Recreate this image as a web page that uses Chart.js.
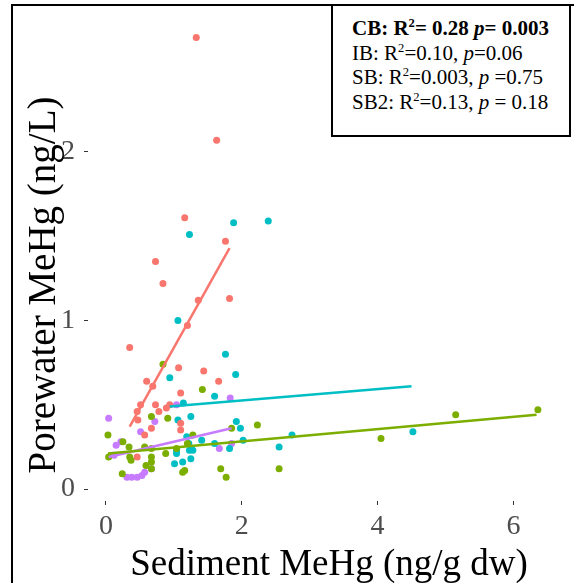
<!DOCTYPE html>
<html>
<head>
<meta charset="utf-8">
<script src="https://cdn.jsdelivr.net/npm/chart.js@4"></script>
<style>
  html, body { margin:0; padding:0; background:#fff; }
  #wrap { position:relative; width:574px; height:583px; overflow:hidden; }
  #c { position:absolute; left:0; top:0; }
  .frameTop { position:absolute; left:11px; top:4px; width:563px; height:2px; background:#000; }
  .frameLeft { position:absolute; left:11px; top:4px; width:2px; height:579px; background:#000; }
  #stats { position:absolute; left:331px; top:4px; width:240px; height:133px; box-sizing:border-box;
           border:2px solid #000; background:#fff; padding:10px 0 0 19px;
           font-family:'Liberation Serif','Times New Roman',serif; font-size:21px; line-height:24.5px; color:#000; white-space:nowrap; }
  #stats sup { font-size:0.6em; line-height:0; vertical-align:0.6em; }
</style>
</head>
<body>
<div id="wrap">
  <canvas id="c" width="574" height="583"></canvas>
  <div class="frameTop"></div>
  <div class="frameLeft"></div>
  <div id="stats">
    <div><b>CB: R<sup>2</sup>= 0.28 <i>p</i>= 0.003</b></div>
    <div>IB: R<sup>2</sup>=0.10, <i>p</i>=0.06</div>
    <div>SB: R<sup>2</sup>=0.003, <i>p</i> =0.75</div>
    <div>SB2: R<sup>2</sup>=0.13, <i>p</i> = 0.18</div>
  </div>
</div>
<script>
// ---- Data ----
const groups = ['CB', 'IB', 'SB', 'SB2'];
const groupColors = ['#F8766D', '#7CAE00', '#00BFC4', '#C77CFF'];

const cbX = [1.33,1.63,1.16,1.76,0.73,0.84,1.36,1.82,1.20,0.35,1.07,1.44,0.60,0.69,1.66,1.10,0.51,0.73,0.78,0.94,0.89,0.46,0.47,1.10,0.67,1.10,0.57,0.46];
const cbY = [2.68,2.07,1.61,1.47,1.35,1.22,1.12,1.13,0.97,0.84,0.72,0.70,0.64,0.61,0.64,0.57,0.50,0.50,0.46,0.50,0.48,0.46,0.41,0.39,0.36,0.35,0.32,0.19];

const ibX = [0.84,1.42,0.67,0.91,0.03,0.25,0.34,0.57,0.67,1.28,1.20,1.85,2.23,0.04,0.35,0.37,0.67,0.88,0.67,0.59,0.67,0.24,1.13,1.16,1.69,1.77,2.55,4.05,5.15,6.36,1.04];
const ibY = [0.74,0.59,0.43,0.42,0.32,0.28,0.25,0.25,0.24,0.32,0.27,0.36,0.38,0.19,0.19,0.17,0.19,0.21,0.16,0.14,0.12,0.09,0.10,0.11,0.12,0.07,0.12,0.30,0.44,0.47,0.24];

const sbX = [1.88,2.39,1.23,1.06,1.76,1.91,0.94,1.60,1.14,1.06,1.25,1.92,1.98,2.02,1.19,1.41,1.60,1.22,1.23,1.04,1.28,1.04,1.82,1.25,1.13,1.01,2.55,2.74,4.52];
const sbY = [1.58,1.59,1.51,1.00,0.80,0.68,0.66,0.55,0.51,0.41,0.43,0.40,0.36,0.29,0.31,0.29,0.27,0.27,0.23,0.23,0.23,0.21,0.24,0.18,0.16,0.15,0.25,0.32,0.34];

const sb2X = [0.04,0.72,0.51,0.22,0.15,0.67,0.38,0.46,0.53,0.57,0.31,1.83,1.67,1.85,1.04,0.12];
const sb2Y = [0.42,0.40,0.34,0.28,0.26,0.12,0.07,0.07,0.08,0.10,0.07,0.54,0.24,0.27,0.50,0.20];

// fitted-line end points
const fitX = [[0.35,1.82],[0.03,6.34],[0.94,4.50],[0.04,1.85]];
const fitY = [[0.37,1.43],[0.21,0.44],[0.49,0.61],[0.19,0.36]];

const xTicks = [0,2,4,6];
const yTicks = [0,1,2];
const xTitle = 'Sediment MeHg (ng/g dw)';
const yTitle = 'Porewater MeHg (ng/L)';

// ---- Build datasets ----
const seriesX = [cbX, ibX, sbX, sb2X];
const seriesY = [cbY, ibY, sbY, sb2Y];
const datasets = [];
groups.forEach((g, i) => {
  datasets.push({
    type: 'line',
    label: g + ' fit',
    data: fitX[i].map((x, k) => ({x, y: fitY[i][k]})),
    borderColor: groupColors[i],
    borderWidth: 2.5,
    pointRadius: 0,
    fill: false,
    order: 0
  });
});
groups.forEach((g, i) => {
  datasets.push({
    type: 'scatter',
    label: g,
    data: seriesX[i].map((x, k) => ({x, y: seriesY[i][k]})),
    backgroundColor: groupColors[i],
    borderWidth: 0,
    pointRadius: 3.5,
    order: 1
  });
});

const serif = "'Liberation Serif','Times New Roman',serif";

// vertical axis title, drawn rotated beside the y axis
const yTitlePlugin = {
  id: 'yTitleText',
  afterDraw(chart, args, opts) {
    const ctx = chart.ctx;
    ctx.save();
    ctx.translate(opts.x, opts.y);
    ctx.rotate(-Math.PI / 2);
    ctx.font = opts.size + 'px ' + serif;
    ctx.fillStyle = opts.color;
    ctx.textAlign = 'center';
    ctx.textBaseline = 'middle';
    ctx.fillText(opts.text, 0, 0);
    ctx.restore();
  }
};

new Chart(document.getElementById('c'), {
  type: 'scatter',
  data: { datasets },
  plugins: [yTitlePlugin],
  options: {
    responsive: false,
    animation: false,
    devicePixelRatio: 1,
    layout: { padding: { top: 15, right: 2, left: 0, bottom: 0 } },
    plugins: {
      legend: { display: false },
      tooltip: { enabled: false },
      yTitleText: { text: yTitle, x: 45, y: 285, size: 39, color: '#000' }
    },
    scales: {
      x: {
        type: 'linear',
        min: -0.264, max: 6.833,
        afterBuildTicks: s => { s.ticks = xTicks.map(v => ({value: v})); },
        afterFit: s => { s.height = 82; s.paddingLeft = 0; s.paddingRight = 0; },
        border: { display: false },
        grid: { drawOnChartArea: false, drawTicks: true, tickLength: 4, tickColor: '#333', tickWidth: 1 },
        ticks: { color: '#4D4D4D', font: { family: serif, size: 28 }, padding: 5, maxRotation: 0 },
        title: { display: true, text: xTitle, color: '#000', font: { family: serif, size: 37, lineHeight: 0.9 }, padding: { top: 0, bottom: 1 } }
      },
      y: {
        type: 'linear',
        min: -0.0712, max: 2.813,
        afterBuildTicks: s => { s.ticks = yTicks.map(v => ({value: v})); },
        afterFit: s => { s.width = 88; s.paddingTop = 0; s.paddingBottom = 0; },
        border: { display: false },
        grid: { drawOnChartArea: false, drawTicks: true, tickLength: 4, tickColor: '#333', tickWidth: 1 },
        ticks: { color: '#4D4D4D', font: { family: serif, size: 28 }, padding: 9 },
        title: { display: false }
      }
    }
  }
});
</script>
</body>
</html>
